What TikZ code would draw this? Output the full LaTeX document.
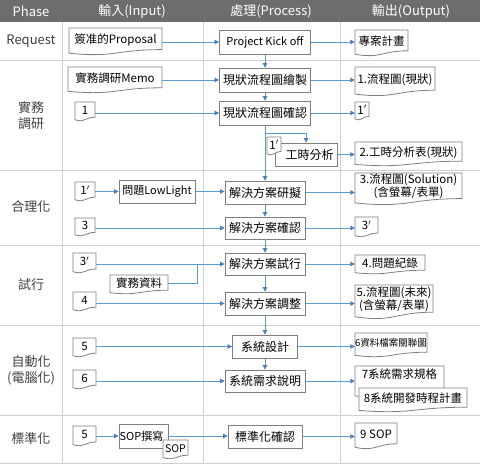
\documentclass[tikz,border=0pt]{standalone}
\usepackage{fontspec}
\setmainfont{Noto Sans CJK TC}
\usetikzlibrary{arrows.meta,calc}
\definecolor{hdr}{HTML}{6D6D6D}
\definecolor{gridc}{HTML}{C9D1DB}
\definecolor{bx}{HTML}{7F7F7F}
\definecolor{ln}{HTML}{5B9BD5}
\definecolor{tip}{HTML}{4A7EBB}
\definecolor{ph}{HTML}{404040}
\newcommand\fsz[1]{\fontsize{#1}{#1}\selectfont}
\newcommand\pri{$'$}
\tikzset{
  gridline/.style={draw=gridc, line width=0.8pt},
  proc/.style={draw=bx, fill=white, line width=0.8pt, inner sep=0pt, font=\fontsize{12}{14}\selectfont},
  docsh/.style={draw=bx, fill=white, line width=0.8pt},
  doctext/.style={inner sep=0pt, font=\fontsize{11.5}{13}\selectfont, align=center},
  arr/.style={draw=ln, line width=0.7pt, -{Triangle[length=4.5pt,width=4.5pt,fill=tip,color=tip]}},
  plainln/.style={draw=ln, line width=0.7pt},
  phase/.style={text=ph, font=\fontsize{13}{16}\selectfont, align=center},
  head/.style={text=white, font=\fontsize{13}{15}\selectfont}
}
% name, x0, y0, x1, y1, text
\newcommand\docnode[6]{%
  \draw[docsh] (#2,#3) -- (#4,#3) -- (#4,{#3+0.80*(#5-#3)}) .. controls ({(#2+#4)/2},{#3+0.80*(#5-#3)}) and ({(#2+#4)/2},{#3+1.107*(#5-#3)}) .. (#2,{#3+0.934*(#5-#3)}) -- cycle;
  \node[doctext, minimum width={(#4-#2)*1pt}, minimum height={0.8*(#5-#3)*1pt}] (#1) at ({(#2+#4)/2},{#3+0.43*(#5-#3)}) {#6};}
\newcommand\procnode[6]{%
  \node[proc, minimum width={(#4-#2)*1pt}, minimum height={(#5-#3)*1pt}] (#1) at ({(#2+#4)/2},{(#3+#5)/2}) {#6};}
\begin{document}
\begin{tikzpicture}[x=1pt,y=-1pt]
\useasboundingbox (0,0) rectangle (480,464);
% header
\fill[hdr] (0,0) rectangle (480,22);
\node[head] (hph) at (31,11) {Phase};
\node[head] (hin) at (132,11) {輸入(Input)};
\node[head] (hpr) at (271,11) {處理(Process)};
\node[head] (hout) at (411,11) {輸出(Output)};
% grid
\foreach \yy in {60,170,245,325,415,463} \draw[gridline] (0,\yy) -- (480,\yy);
\foreach \xx in {62,203,340} \draw[gridline] (\xx,22) -- (\xx,463);
% phases
\node[phase] (p1) at (31,41) {Request};
\node[phase] (p2) at (31,116) {實務\\調研};
\node[phase] (p3) at (31,207) {合理化};
\node[phase] (p4) at (31,285) {試行};
\node[phase] (p5) at (31,370) {自動化\\(電腦化)};
\node[phase] (p6) at (31,439) {標準化};

% Request
\docnode{prop}{69}{28}{162}{55}{簽准的Proposal}
\procnode{kick}{219.5}{30}{310.5}{54}{\fsz{11}Project Kick off}
\docnode{plan}{355}{30}{408}{56}{專案計畫}
% 實務調研
\docnode{memo}{68}{67}{162}{93}{實務調研Memo}
\procnode{draw1}{219.5}{68}{310.5}{92}{現狀流程圖繪製}
\docnode{out1}{355}{67}{435}{96}{1.流程圖(現狀)}
\docnode{d1}{75}{102}{95}{121}{1}
\procnode{conf1}{219.5}{101}{310.5}{125}{現狀流程圖確認}
\docnode{out1p}{355}{102}{369}{120}{1\pri}
\procnode{time}{275}{143}{337}{166}{\hspace*{7pt}工時分析}
\docnode{out2}{355}{142}{462}{166}{2.工時分析表(現狀)}
% 合理化
\docnode{d1p}{75}{182}{95}{201}{1\pri}
\procnode{low}{119}{180}{195}{203}{\fsz{11}問題LowLight}
\procnode{sol1}{225}{181}{305}{204}{解決方案研擬}
\docnode{out3}{355}{173}{462}{205}{3.流程圖(Solution)\\(含螢幕/表單)}
\docnode{d3}{75}{218}{95}{236}{3}
\procnode{sol2}{225}{217}{305}{239}{解決方案確認}
\docnode{out3p}{355}{217}{378}{237}{3\pri}
% 試行
\docnode{d3p}{73}{253}{96}{273}{3\pri}
\docnode{data}{110}{275}{168}{294}{實務資料}
\procnode{sol3}{225}{253}{305}{275}{解決方案試行}
\docnode{out4}{355}{255}{425}{274}{4.問題紀錄}
\docnode{d4}{73}{292}{96}{311}{4}
\procnode{sol4}{225}{292}{305}{315}{解決方案調整}
\docnode{out5}{355}{285}{433}{319}{5.流程圖(未來)\\(含螢幕/表單)}
% 自動化
\docnode{d5}{73}{338}{96}{357}{5}
\procnode{sys1}{232.5}{335}{297.5}{358}{系統設計}
\docnode{out6}{355}{333}{427}{357}{\fsz{9.5}6資料檔案關聯圖}
\docnode{d6}{73}{370}{96}{389}{6}
\procnode{sys2}{225}{370}{305}{392}{系統需求說明}
\docnode{out7}{355}{366}{444}{398}{7系統需求規格\\\mbox{}}
\docnode{out8}{359}{388}{467}{412}{8系統開發時程計畫}
% 標準化
\docnode{d5b}{73}{426}{96}{446}{5}
\procnode{sop}{119}{424}{168}{448}{\fsz{11}SOP撰寫\hspace*{4pt}}
\procnode{std}{228}{425}{302}{448}{標準化確認}
\docnode{out9}{355}{423}{397}{449}{9 SOP}

% connectors: input -> process
\draw[arr] (kick.west -| prop.east) -- (kick.west);
\draw[arr] (draw1.west -| memo.east) -- (draw1.west);
\draw[arr] (conf1.west -| d1.east) -- (conf1.west);
\draw[arr] (low.west -| d1p.east) -- (low.west);
\draw[arr] (low.east) -- (low.east -| sol1.west);
\draw[arr] (sol2.west -| d3.east) -- (sol2.west);
\draw[arr] (sol3.west -| d3p.east) -- (sol3.west);
\coordinate (j) at (197,264);
\draw[plainln] (data.east) -| (j);
\draw[arr] (sol4.west -| d4.east) -- (sol4.west);
\draw[arr] (sys1.west -| d5.east) -- (sys1.west);
\draw[arr] (sys2.west -| d6.east) -- (sys2.west);
\draw[arr] (sop.west -| d5b.east) -- (sop.west);
\draw[arr] (sop.east) -- (sop.east -| std.west);
% process -> output
\draw[arr] (kick.east) -- (kick.east -| plan.west);
\draw[arr] (draw1.east) -- (draw1.east -| out1.west);
\draw[arr] (conf1.east) -- (conf1.east -| out1p.west);
\draw[arr] (time.east) -- (time.east -| out2.west);
\draw[arr] (sol1.east) -- (sol1.east -| out3.west);
\draw[arr] (sol2.east) -- (sol2.east -| out3p.west);
\draw[arr] (sol3.east) -- (sol3.east -| out4.west);
\draw[arr] (sol4.east) -- (sol4.east -| out5.west);
\draw[arr] (sys1.east) -- (sys1.east -| out6.west);
\draw[arr] (sys2.east) -- (sys2.east -| out7.west);
\draw[arr] (std.east) -- (std.east -| out9.west);
% process chain
\draw[arr] (kick.south) -- (draw1.north);
\draw[arr] (draw1.south) -- (conf1.north);
\draw[arr] (conf1.south) -- (sol1.north);
\coordinate (br) at (265,133);
\draw[arr] (br) -| (time.north);
\draw[arr] (sol1.south) -- (sol2.north);
\draw[arr] (sol2.south) -- (sol3.north);
\draw[arr] (sol3.south) -- (sol4.north);
\draw[arr] (sol4.south) -- (sys1.north);
\draw[arr] (sys1.south) -- (sys2.north);
% small docs overlapping boxes
\docnode{kp}{267}{137}{281}{155}{1\pri}
\docnode{sopd}{163}{440}{188}{459}{\fsz{10.5}SOP}
\end{tikzpicture}
\end{document}
